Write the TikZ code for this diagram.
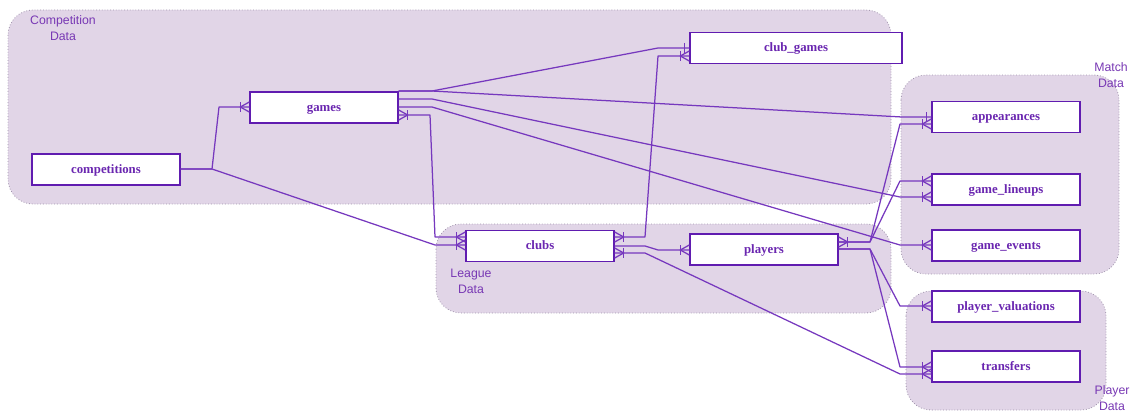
\documentclass[tikz,border=0pt]{standalone}
\usepackage{fontspec}
\setmainfont{Liberation Serif}
\setsansfont{Liberation Sans}
\definecolor{grpfill}{RGB}{225,213,231}
\definecolor{grpdraw}{RGB}{160,148,172}
\definecolor{edgec}{RGB}{118,56,190}
\definecolor{boxc}{RGB}{96,28,176}
\definecolor{txtc}{RGB}{106,38,176}
\definecolor{grptxt}{RGB}{120,56,180}
\tikzset{
  grp/.style={fill=grpfill, draw=grpdraw, dotted, line width=0.8pt, rounded corners=25pt},
  grplabel/.style={text=grptxt, font=\sffamily\fontsize{12.3}{16}\selectfont, align=center, inner sep=0pt},
  entity/.style={draw=boxc, line width=1.4pt, fill=white, minimum width=148pt, minimum height=31pt,
    inner sep=0pt, text height=9.5pt, text depth=2pt, text=txtc, font=\bfseries\fontsize{12.8}{15}\selectfont},
  rel/.style={draw=edgec, line width=1.25pt, line join=round},
  % crow's foot with bar; origin on the box edge, box lies towards +x
  crowbar/.pic={
    \draw[rel] (-9,-5) -- (-9,5);
    \draw[rel] (0,-5) -- (-9,0) -- (0,5);
  },
  % single bar; origin on the box edge, box lies towards +x
  onebar/.pic={
    \draw[rel] (-5,-5) -- (-5,5);
  }
}
\begin{document}
\begin{tikzpicture}[x=1pt, y=-1pt]
\useasboundingbox (0,0) rectangle (1132,412);

% areas
\draw[grp] (8,10) rectangle (891,204);
\draw[grp] (436,224) rectangle (891,313);
\draw[grp] (901,75) rectangle (1119,274);
\draw[grp] (906,291) rectangle (1106,410);

\node[grplabel] (lblcomp) at (63,28) {Competition\\Data};
\node[grplabel] (lblleague) at (471,281) {League\\Data};
\node[grplabel] (lblmatch) at (1111,75) {Match\\Data};
\node[grplabel] (lblplayer) at (1112,398) {Player\\Data};

% tables
\node[entity] (competitions) at (106,169.5) {competitions};
\node[entity] (games) at (324,107.5) {games};
\node[entity, minimum width=212pt] (clubgames) at (796,48) {club\_games};
\node[entity] (clubs) at (540,246) {clubs};
\node[entity] (players) at (764,249.5) {players};
\node[entity] (appearances) at (1006,117) {appearances};
\node[entity] (lineups) at (1006,189.5) {game\_lineups};
\node[entity] (events) at (1006,245.5) {game\_events};
\node[entity] (valuations) at (1006,306.5) {player\_valuations};
\node[entity] (transfers) at (1006,366.5) {transfers};

% competitions relations
\draw[rel] (competitions.east |- 0,169) -- (212,169) -- (219,107) -- (games.west |- 0,107);
\pic at (games.west |- 0,107) {crowbar};
\draw[rel] (competitions.east |- 0,169) -- (212,169) -- (435,245) -- (clubs.west |- 0,245);
\pic at (clubs.west |- 0,245) {crowbar};

% games relations
\draw[rel] (games.east |- 0,115) -- (430,115) -- (435,237) -- (clubs.west |- 0,237);
\pic[xscale=-1] at (games.east |- 0,115) {crowbar};
\pic at (clubs.west |- 0,237) {crowbar};
\draw[rel] (games.east |- 0,91) -- (432,91) -- (658,48) -- (clubgames.west |- 0,48);
\pic at (clubgames.west |- 0,48) {onebar};
\draw[rel] (games.east |- 0,91) -- (432,91) -- (902,117) -- (appearances.west |- 0,117);
\pic at (appearances.west |- 0,117) {onebar};
\draw[rel] (games.east |- 0,99) -- (432,99) -- (900,197) -- (lineups.west |- 0,197);
\pic at (lineups.west |- 0,197) {crowbar};
\draw[rel] (games.east |- 0,107) -- (432,107) -- (900,245) -- (events.west |- 0,245);
\pic at (events.west |- 0,245) {crowbar};

% clubs relations
\draw[rel] (clubs.east |- 0,237) -- (645,237) -- (658,56) -- (clubgames.west |- 0,56);
\pic[xscale=-1] at (clubs.east |- 0,237) {crowbar};
\pic at (clubgames.west |- 0,56) {crowbar};
\draw[rel] (clubs.east |- 0,246) -- (645,246) -- (658,250) -- (players.west |- 0,250);
\pic at (players.west |- 0,250) {crowbar};
\draw[rel] (clubs.east |- 0,253) -- (645,253) -- (900,374) -- (transfers.west |- 0,374);
\pic[xscale=-1] at (clubs.east |- 0,253) {crowbar};
\pic at (transfers.west |- 0,374) {crowbar};

% players relations
\draw[rel] (players.east |- 0,242) -- (870,242) -- (900,124) -- (appearances.west |- 0,124);
\pic[xscale=-1] at (players.east |- 0,242) {crowbar};
\pic at (appearances.west |- 0,124) {crowbar};
\draw[rel] (players.east |- 0,242) -- (870,242) -- (900,181) -- (lineups.west |- 0,181);
\pic at (lineups.west |- 0,181) {crowbar};
\draw[rel] (players.east |- 0,249) -- (870,249) -- (900,306) -- (valuations.west |- 0,306);
\pic at (valuations.west |- 0,306) {crowbar};
\draw[rel] (players.east |- 0,249) -- (870,249) -- (900,367) -- (transfers.west |- 0,367);
\pic at (transfers.west |- 0,367) {crowbar};
\end{tikzpicture}
\end{document}
